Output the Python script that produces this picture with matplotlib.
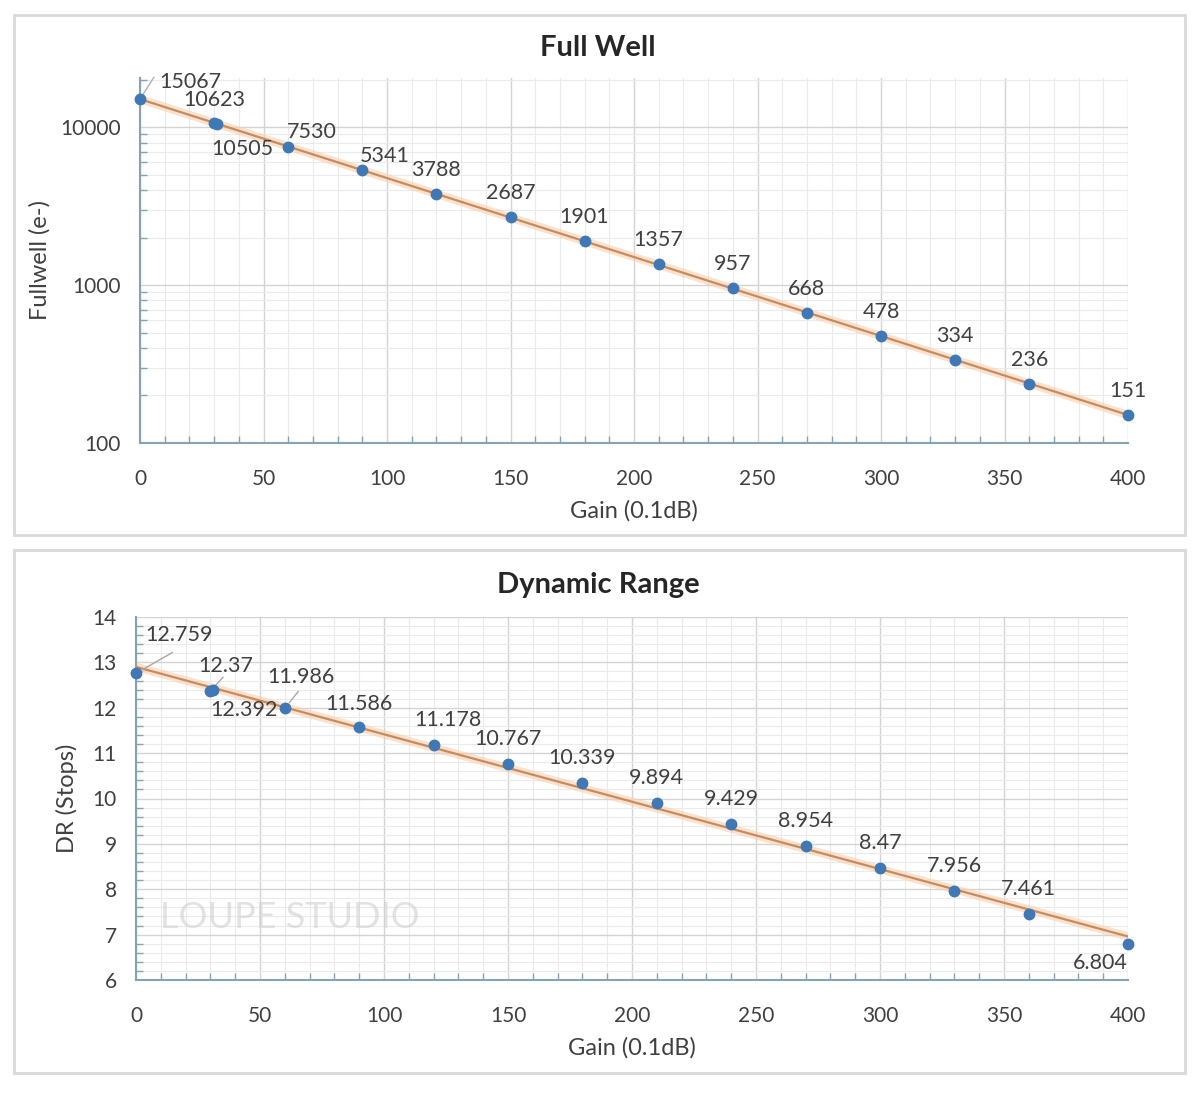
import matplotlib
matplotlib.use("Agg")
from matplotlib import pyplot as plt
from matplotlib.patches import Rectangle
from matplotlib.ticker import MultipleLocator, LogLocator, NullFormatter, FixedLocator
import numpy as np

plt.rcParams["font.family"] = ["Lato", "DejaVu Sans"]

gain = [0, 30, 31, 60, 90, 120, 150, 180, 210, 240, 270, 300, 330, 360, 400]
fullwell = [15067, 10623, 10505, 7530, 5341, 3788, 2687, 1901, 1357, 957, 668, 478, 334, 236, 151]
dr = [12.759, 12.37, 12.392, 11.986, 11.586, 11.178, 10.767, 10.339, 9.894, 9.429, 8.954, 8.47, 7.956, 7.461, 6.804]

# label offsets in pixels (dx, dy), per point
fw_offsets = [(50, 17), (0, 23), (26, -25), (24, 15), (22, 14)] + [(0, 24)] * 10
dr_offsets = [(43, 38), (15, 25), (31, -20), (16, 31), (0, 23), (14, 25)] + [(0, 25)] * 8 + [(-28, -19)]
dr_leaders = {0, 1, 3}

W, H = 1200, 1094
fig = plt.figure(figsize=(12, 10.94), dpi=100)

spine_c = "#86a3b4"
text_c = "#404040"
dot_c = "#3f78b4"
trend_c = "#c98a5c"


def frac(x0, y0, x1, y1):
    return [x0 / W, 1 - y1 / H, (x1 - x0) / W, (y1 - y0) / H]


# panel frames
for (x0, y0, x1, y1) in [(14, 15, 1185, 535), (14, 550, 1185, 1073)]:
    fig.patches.append(Rectangle((x0 / W, 1 - y1 / H), (x1 - x0) / W, (y1 - y0) / H,
                                 transform=fig.transFigure, fill=False,
                                 edgecolor="#d9d9d9", linewidth=2))


def style(ax):
    for s in ["top", "right"]:
        ax.spines[s].set_visible(False)
    for s in ["left", "bottom"]:
        ax.spines[s].set_color(spine_c)
        ax.spines[s].set_linewidth(1.5)
    ax.tick_params(which="major", length=0, labelsize=15, labelcolor=text_c)
    ax.tick_params(axis="x", which="major", pad=19)
    ax.tick_params(axis="y", which="major", pad=14)
    ax.tick_params(which="minor", direction="in", length=5, color=spine_c, width=1)
    ax.grid(which="major", color="#d4d4d4", linewidth=1)
    ax.grid(which="minor", color="#ebebeb", linewidth=0.8)
    ax.set_axisbelow(True)
    ax.set_xlim(0, 400)
    ax.xaxis.set_major_locator(MultipleLocator(50))
    ax.xaxis.set_minor_locator(MultipleLocator(10))
    ax.set_xlabel("Gain (0.1dB)", fontsize=17, color=text_c, labelpad=8)


# ---- Full Well ----
ax1 = fig.add_axes(frac(140, 78, 1128, 443))
style(ax1)
ax1.set_yscale("log")
ax1.set_ylim(100, 20500)
ax1.yaxis.set_major_locator(FixedLocator([100, 1000, 10000]))
ax1.yaxis.set_major_formatter(plt.FuncFormatter(lambda v, p: f"{int(v)}"))
ax1.yaxis.set_minor_locator(LogLocator(base=10, subs=np.arange(2, 10)))
ax1.yaxis.set_minor_formatter(NullFormatter())
ax1.set_ylabel("Fullwell (e-)", fontsize=17, color=text_c, labelpad=7)
ax1.set_title("Full Well", fontsize=21, fontweight="bold", color="#262626", pad=16,
              x=(598 - 140) / 988)

g = np.array(gain, dtype=float)
k, b = np.polyfit(g, np.log(fullwell), 1)
xs = np.linspace(0, 400, 200)
ax1.plot(xs, np.exp(k * xs + b), color="#f6cfae", linewidth=6, alpha=0.6, zorder=2)
ax1.plot(xs, np.exp(k * xs + b), color=trend_c, linewidth=1.6, zorder=3)
ax1.plot(gain, fullwell, "o", color=dot_c, markersize=7.5, zorder=4, clip_on=False)
for x, y, (dx, dy) in zip(gain, fullwell, fw_offsets):
    ax1.annotate(str(y), (x, y), xytext=(dx, dy), textcoords="offset pixels",
                 ha="center", va="center", fontsize=15.5, color=text_c, zorder=5)
ax1.annotate("", (0, fullwell[0]), xytext=(14, 22), textcoords="offset pixels",
             arrowprops=dict(arrowstyle="-", color="#b0b0b0", lw=1,
                             shrinkA=0, shrinkB=4))

# ---- Dynamic Range ----
ax2 = fig.add_axes(frac(136, 617, 1128, 980))
style(ax2)
ax2.set_ylim(6, 14)
ax2.yaxis.set_major_locator(MultipleLocator(1))
ax2.yaxis.set_minor_locator(MultipleLocator(0.2))
ax2.set_ylabel("DR (Stops)", fontsize=17, color=text_c, labelpad=10)
ax2.set_title("Dynamic Range", fontsize=21, fontweight="bold", color="#262626", pad=17,
              x=(598 - 136) / 992)

k2, b2 = np.polyfit(g, dr, 1)
ax2.plot(xs, k2 * xs + b2, color="#f6cfae", linewidth=6, alpha=0.6, zorder=2)
ax2.plot(xs, k2 * xs + b2, color=trend_c, linewidth=1.6, zorder=3)
ax2.plot(gain, dr, "o", color=dot_c, markersize=7.5, zorder=4, clip_on=False)
for i, (x, y, (dx, dy)) in enumerate(zip(gain, dr, dr_offsets)):
    ax2.annotate(f"{y:g}", (x, y), xytext=(dx, dy), textcoords="offset pixels",
                 ha="center", va="center", fontsize=15.5, color=text_c, zorder=5)
    if i in dr_leaders:
        ax2.annotate("", (x, y), xytext=(dx * 0.85, dy * 0.55), textcoords="offset pixels",
                     arrowprops=dict(arrowstyle="-", color="#a8a8a8", lw=1,
                                     shrinkA=0, shrinkB=5))

# watermark
fig.text(290 / W, 1 - 918 / H, "LOUPE STUDIO", fontsize=26, color="#d0d0d0",
         ha="center", va="center", alpha=0.6, zorder=0)

fig.savefig("out.png", dpi=100)
